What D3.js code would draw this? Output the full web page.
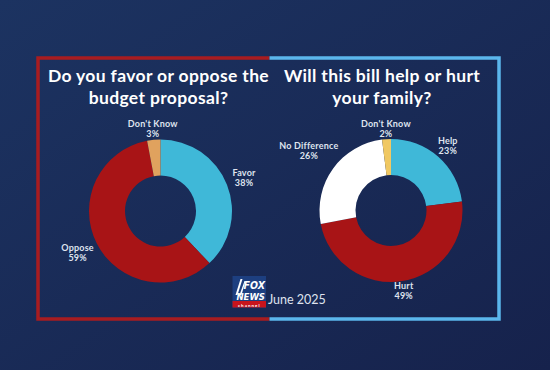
<!DOCTYPE html>
<html>
<head>
<meta charset="utf-8">
<script src="https://cdn.jsdelivr.net/npm/d3@7"></script>
<style>
  body { margin: 0; background: #172a55; }
  svg { display: block; }
</style>
</head>
<body>
<svg id="chart"></svg>
<script>
// poll data
let favorLabels = ['Favor', 'Oppose', "Don't Know"]
let favorValues = [38, 59, 3]
let favorColors = ['#3fb8d8', '#a81416', '#e0a25e']

let familyLabels = ['Help', 'Hurt', 'No Difference', "Don't Know"]
let familyValues = [23, 49, 26, 2]
let familyColors = ['#3fb8d8', '#a81416', '#ffffff', '#f0c862']

let titles = [
    ['Do you favor or oppose the', 'budget proposal?'],
    ['Will this bill help or hurt', 'your family?']
]
let dateText = 'June 2025'

let width = 550
let height = 370

let svg = d3.select('#chart')
    .attr('width', width)
    .attr('height', height)
    .style('font-family', 'Lato, "Open Sans", sans-serif')

// background gradient
let defs = svg.append('defs')
let grad = defs.append('linearGradient').attr('id', 'bg')
    .attr('x1', 0).attr('y1', 0).attr('x2', 1).attr('y2', 1)
grad.append('stop').attr('offset', 0).attr('stop-color', '#1c3361')
grad.append('stop').attr('offset', 1).attr('stop-color', '#16224c')
svg.append('rect').attr('width', width).attr('height', height).attr('fill', 'url(#bg)')

// frame: red half on the left, blue half on the right
let mid = 269.5
svg.append('path')
    .attr('d', `M${mid},58 H38 V319 H${mid}`)
    .attr('fill', 'none').attr('stroke', '#a81c20').attr('stroke-width', 3.5)
svg.append('path')
    .attr('d', `M${mid},58 H499 V319 H${mid}`)
    .attr('fill', 'none').attr('stroke', '#5bb6ec').attr('stroke-width', 3.5)

let pie = d3.pie().sort(null).value(d => d.value)
let arc = d3.arc().innerRadius(35.5).outerRadius(71.5)

function donut(cx, cy, labels, values, colors, title, titleX) {
    let data = labels.map((l, i) => ({label: l, value: values[i], color: colors[i]}))

    let t = svg.append('g')
    title.forEach((line, i) => {
        t.append('text')
            .attr('x', titleX).attr('y', 82 + i * 22)
            .attr('text-anchor', 'middle')
            .attr('fill', '#ffffff')
            .attr('font-weight', 700)
            .attr('font-size', 17.5)
            .attr('letter-spacing', 0.35)
            .text(line)
    })

    let g = svg.append('g').attr('transform', `translate(${cx},${cy})`)
    let slices = pie(data)
    g.selectAll('path').data(slices).enter()
        .append('path')
        .attr('d', arc)
        .attr('fill', d => d.data.color)

    // labels sit outside the ring, pushed out more where the text is wide
    let lab = g.selectAll('.lab').data(slices).enter()
        .append('text')
        .attr('class', 'lab')
        .attr('text-anchor', 'middle')
        .attr('fill', '#dfe3ee')
        .attr('font-weight', 700)
        .attr('font-size', 9)
        .attr('letter-spacing', 0.2)
    lab.append('tspan').attr('x', 0).attr('dy', 0).text(d => d.data.label)
    lab.append('tspan').attr('x', 0).attr('dy', 10).text(d => d.data.value + '%')
    lab.each(function(d) {
        let a = (d.startAngle + d.endAngle) / 2
        let w = this.getBBox().width / 2
        let r = 80 + w * Math.abs(Math.sin(a)) * 0.9
        let x = r * Math.sin(a)
        let y = -r * Math.cos(a)
        d3.select(this).attr('transform', `translate(${x},${y - 2})`)
    })
}

donut(160.5, 211, favorLabels, favorValues, favorColors, titles[0], 158.5)
donut(391, 210.5, familyLabels, familyValues, familyColors, titles[1], 382)

// fox news logo block
let logo = svg.append('g').attr('transform', 'translate(232.5,276)')
logo.append('rect').attr('width', 33.5).attr('height', 31.5).attr('fill', '#1d3f80')
logo.append('rect').attr('y', 25).attr('width', 33.5).attr('height', 6.5).attr('fill', '#c8141c')
logo.append('path').attr('d', 'M3,19 L8,3 L10,3 L5,19 Z M7,19 L12,5 L13,5 L9,19 Z').attr('fill', '#ffffff')
let logoFont = '"Liberation Sans Narrow", "DejaVu Sans Condensed", sans-serif'
logo.append('text').attr('x', 32.5).attr('y', 13).attr('text-anchor', 'end')
    .attr('fill', '#fff').attr('font-weight', 900).attr('font-size', 10.5)
    .attr('font-style', 'italic').attr('font-family', logoFont)
    .text('FOX')
logo.append('text').attr('x', 32.5).attr('y', 24).attr('text-anchor', 'end')
    .attr('fill', '#fff').attr('font-weight', 900).attr('font-size', 9.5)
    .attr('font-style', 'italic').attr('font-family', logoFont)
    .text('NEWS')
logo.append('text').attr('x', 16.75).attr('y', 30.5).attr('text-anchor', 'middle')
    .attr('fill', '#fff').attr('font-weight', 700).attr('font-size', 4.5)
    .attr('letter-spacing', 1)
    .text('channel')

svg.append('text')
    .attr('x', 268).attr('y', 304)
    .attr('fill', '#dfe3ee').attr('font-size', 12.5)
    .text(dateText)
</script>
</body>
</html>
